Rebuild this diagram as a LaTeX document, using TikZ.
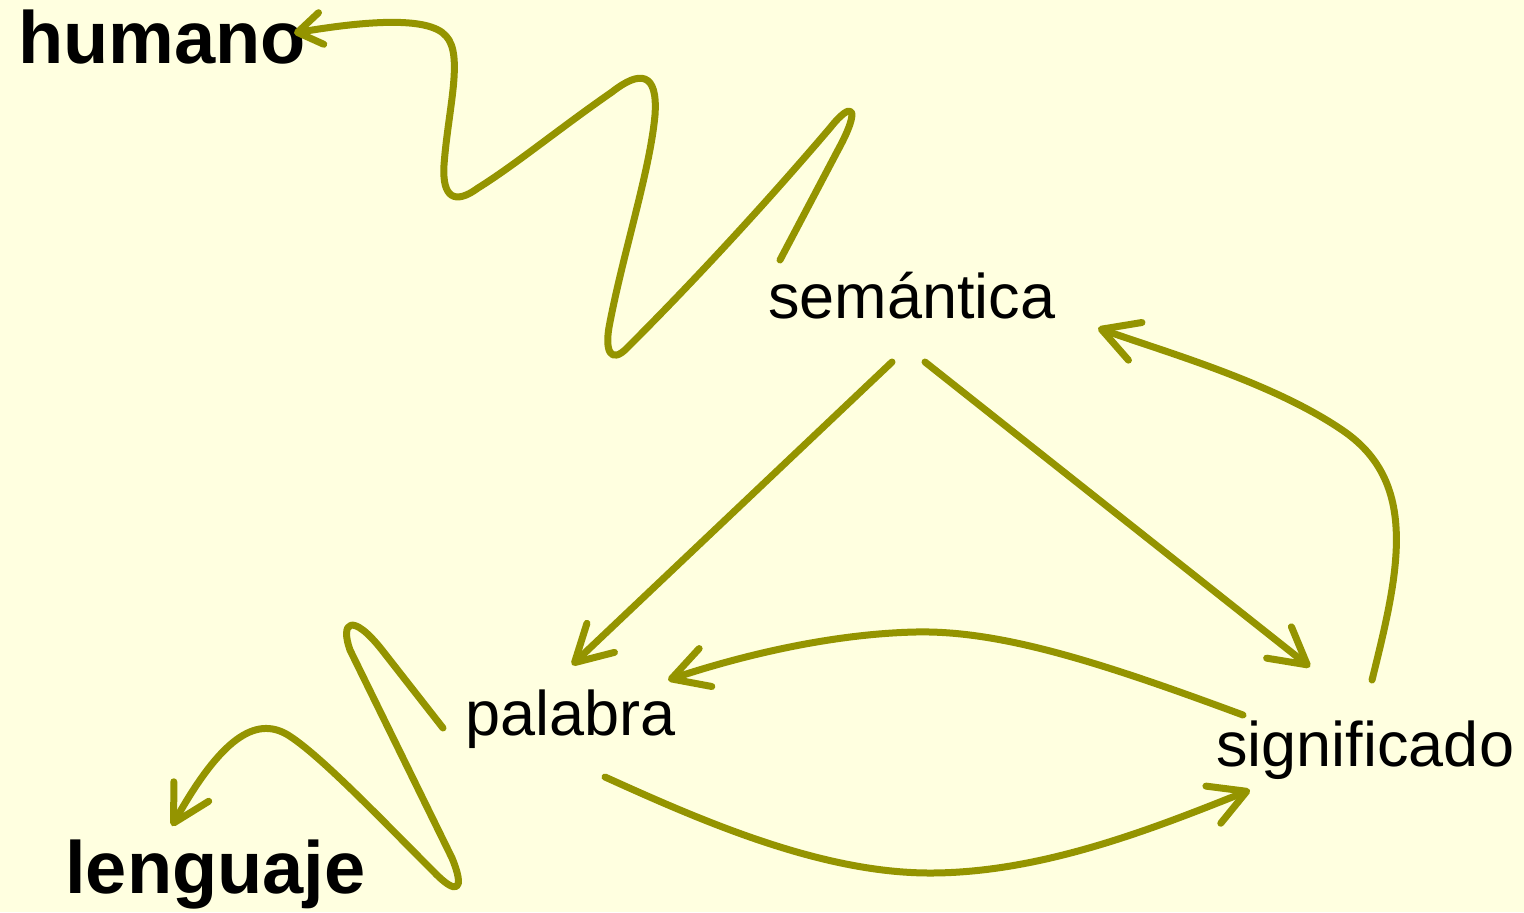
\documentclass[tikz,border=0pt]{standalone}
\usepackage{fontspec}
\setmainfont{Liberation Sans}
\usetikzlibrary{arrows.meta}
\definecolor{olivec}{HTML}{949400}
\definecolor{bgc}{HTML}{FFFFE0}
\begin{document}
\begin{tikzpicture}[x=0.5pt,y=-0.5pt,
  lbl/.style={anchor=base west, inner sep=0pt, font=\fontsize{31.5}{36}\selectfont},
  blbl/.style={anchor=base west, inner sep=0pt, font=\fontsize{37}{42}\selectfont\bfseries},
  conn/.style={draw=olivec, line width=3.5pt, line cap=round, line join=round,
    -{Straight Barb[round,length=18pt,width=20pt]}},
  smallhead/.style={-{Straight Barb[round,length=12pt,width=16pt]}}]
\fill[bgc] (0,0) rectangle (1524,912);
\useasboundingbox (0,0) rectangle (1524,912);
% labels
\node[blbl] (hum) at (18,63) {humano};
\node[blbl] (len) at (65,893) {lenguaje};
\node[lbl] (sem) at (768,318) {semántica};
\node[lbl] (pal) at (465,735) {palabra};
\node[lbl] (sig) at (1216,766) {significado};
% connector end points
\coordinate (semA) at (780,260);
\coordinate (semB) at (892,362);
\coordinate (semC) at (925,362);
\coordinate (semD) at (1098,328);
\coordinate (palA) at (443,728);
\coordinate (palB) at (572,665);
\coordinate (palC) at (668,680);
\coordinate (palD) at (605,777);
\coordinate (sigA) at (1310,667);
\coordinate (sigB) at (1372,680);
\coordinate (sigC) at (1243,715);
\coordinate (sigD) at (1250,790);
\coordinate (humA) at (294,33);
\coordinate (lenA) at (172,826);
% connectors
\draw[conn,smallhead] (semA) -- (838,150) .. controls (862,106) and (852,100) .. (830,128)
  .. controls (760,210) and (690,285) .. (628,347)
  .. controls (610,366) and (604,350) .. (610,322)
  .. controls (624,250) and (650,170) .. (655,115)
  .. controls (658,72) and (640,70) .. (612,92)
  .. controls (560,128) and (515,165) .. (478,188)
  .. controls (455,205) and (442,198) .. (444,165)
  .. controls (448,110) and (464,55) .. (446,36)
  .. controls (428,15) and (360,22) .. (humA);
\draw[conn] (semB) -- (palB);
\draw[conn] (semC) -- (sigA);
\draw[conn] (sigB) .. controls (1398,575) and (1420,485) .. (1345,432)
  .. controls (1275,383) and (1165,352) .. (semD);
\draw[conn] (sigC) .. controls (1100,662) and (1000,630) .. (915,632)
  .. controls (830,634) and (740,656) .. (palC);
\draw[conn] (palD) .. controls (700,820) and (820,873) .. (930,873)
  .. controls (1040,873) and (1150,830) .. (sigD);
\draw[conn] (palA) -- (382,650) .. controls (352,612) and (340,622) .. (350,650)
  -- (452,858) .. controls (466,892) and (456,895) .. (434,872)
  .. controls (380,818) and (320,755) .. (288,735)
  .. controls (255,715) and (220,740) .. (lenA);
\end{tikzpicture}
\end{document}
